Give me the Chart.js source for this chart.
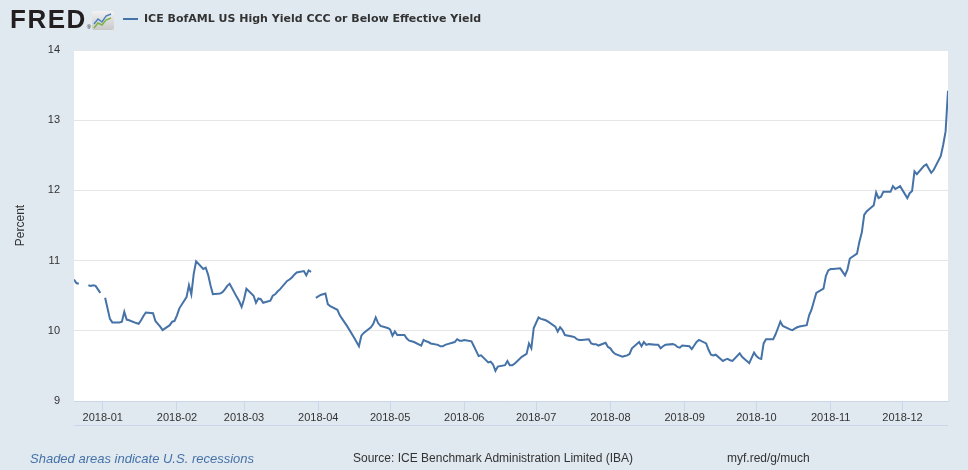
<!DOCTYPE html>
<html>
<head>
<meta charset="utf-8">
<script src="https://cdn.jsdelivr.net/npm/chart.js@4.4.0/dist/chart.umd.min.js"></script>
<style>
  body { margin: 0; background: #e1e9f0; }
  #wrap { position: relative; width: 968px; height: 470px; background: #e1e9f0; font-family: "Liberation Sans", Arial, sans-serif; overflow: hidden; }
  #chart { position: absolute; left: 0; top: 0; }
  .abs { position: absolute; white-space: nowrap; }
  #logo { left: 10px; top: 4px; font: bold 26px "Liberation Sans", Arial, sans-serif; color: #231f20; letter-spacing: 1.5px; }
  #logo sup { font-size: 6px; font-weight: normal; letter-spacing: 0; vertical-align: -1px; }
  #icon { left: 92px; top: 11px; }
  #legendLine { left: 123px; top: 18px; width: 15px; height: 2px; background: #4572a7; }
  #legendText { left: 144px; top: 12px; font: bold 11px "DejaVu Sans", sans-serif; color: #333; }
  #axisLine { left: 74px; top: 425px; width: 874px; height: 1px; background: #ccd6eb; }
  #recess { left: 30px; top: 451px; font: italic 13px "Liberation Sans", Arial, sans-serif; color: #4572a7; }
  #source { left: 353px; top: 451px; font: 12px "Liberation Sans", Arial, sans-serif; color: #333; }
  #link { left: 727px; top: 451px; font: 12px "Liberation Sans", Arial, sans-serif; color: #333; }
</style>
</head>
<body>
<div id="wrap">
  <canvas id="chart" width="968" height="470"></canvas>
  <div class="abs" id="logo">FRED<sup>®</sup></div>
  <svg class="abs" id="icon" width="22" height="19" viewBox="0 0 22 19">
    <defs>
      <linearGradient id="g" x1="0" y1="0" x2="0" y2="1">
        <stop offset="0" stop-color="#f2f2f2"/>
        <stop offset="1" stop-color="#c8c8c8"/>
      </linearGradient>
    </defs>
    <rect width="22" height="19" rx="2" fill="url(#g)"/>
    <polyline points="2,13 6,8 10,11 14,5 19,3" stroke="#4a7fc1" stroke-width="1.4" fill="none"/>
    <polyline points="2,17 6,12 10,14 14,9 19,7" stroke="#7cb342" stroke-width="1.4" fill="none"/>
  </svg>
  <div class="abs" id="legendLine"></div>
  <div class="abs" id="legendText">ICE BofAML US High Yield CCC or Below Effective Yield</div>
  <div class="abs" id="axisLine"></div>
  <div class="abs" id="recess">Shaded areas indicate U.S. recessions</div>
  <div class="abs" id="source">Source: ICE Benchmark Administration Limited (IBA)</div>
  <div class="abs" id="link">myf.red/g/much</div>
</div>
<script>
// days of month with observations, and the yield (percent) on each; null = no value
const dec17Days = [20, 21, 22, 25, 26, 27, 28, 29, 31];
const dec17 = [10.73, 10.68, 10.67, null, 10.65, 10.64, 10.65, 10.64, 10.54];

const janDays = [1, 2, 3, 4, 5, 8, 9, 10, 11, 12, 15, 16, 17, 18, 19, 22, 23, 24, 25, 26, 29, 30, 31];
const jan = [null, 10.47, 10.32, 10.17, 10.12, 10.12, 10.13, 10.27, 10.16, 10.15, 10.11, 10.10, 10.15, 10.21, 10.26, 10.25, 10.14, 10.10, 10.06, 10.01, 10.08, 10.13, 10.14];

const febDays = [1, 2, 5, 6, 7, 8, 9, 12, 13, 14, 15, 16, 19, 20, 21, 22, 23, 26, 27, 28];
const feb = [10.22, 10.32, 10.48, 10.65, 10.52, 10.81, 10.99, 10.88, 10.90, 10.80, 10.65, 10.52, 10.53, 10.55, 10.59, 10.64, 10.67, 10.48, 10.42, 10.34];

const marDays = [1, 2, 5, 6, 7, 8, 9, 12, 13, 14, 15, 16, 19, 20, 21, 22, 23, 26, 27, 28, 29, 30, 31];
const mar = [10.45, 10.60, 10.50, 10.40, 10.46, 10.45, 10.40, 10.43, 10.50, 10.52, 10.56, 10.59, 10.71, 10.73, 10.76, 10.80, 10.83, 10.85, 10.79, 10.86, 10.84, null, 10.47];

const aprDays = [2, 3, 4, 5, 6, 9, 10, 11, 12, 13, 16, 17, 18, 19, 20, 23, 24, 25, 26, 27, 30];
const apr = [10.51, 10.52, 10.53, 10.38, 10.35, 10.30, 10.22, 10.17, 10.12, 10.07, 9.90, 9.84, 9.78, 9.93, 9.97, 10.05, 10.10, 10.19, 10.11, 10.07, 10.04];

const mayDays = [1, 2, 3, 4, 7, 8, 9, 10, 11, 14, 15, 16, 17, 18, 21, 22, 23, 24, 25, 28, 29, 30, 31];
const may = [10.02, 9.93, 9.99, 9.94, 9.94, 9.89, 9.86, 9.85, 9.84, 9.79, 9.87, 9.85, 9.84, 9.82, 9.80, 9.78, 9.78, 9.80, 9.81, 9.84, 9.88, 9.86, 9.86];

const junDays = [1, 4, 5, 6, 7, 8, 11, 12, 13, 14, 15, 18, 19, 20, 21, 22, 25, 26, 27, 28, 29, 30];
const jun = [9.87, 9.85, 9.78, 9.71, 9.64, 9.65, 9.55, 9.56, 9.52, 9.43, 9.49, 9.51, 9.57, 9.51, 9.51, 9.53, 9.63, 9.65, 9.67, 9.82, 9.75, 10.04];

const julDays = [2, 3, 4, 5, 6, 9, 10, 11, 12, 13, 16, 17, 18, 19, 20, 23, 24, 25, 26, 27, 30, 31];
const jul = [10.19, 10.17, 10.16, 10.15, 10.13, 10.06, 9.99, 10.05, 10.01, 9.94, 9.92, 9.91, 9.88, 9.87, 9.87, 9.88, 9.82, 9.81, 9.81, 9.79, 9.83, 9.77];

const augDays = [1, 2, 3, 6, 7, 8, 9, 10, 13, 14, 15, 16, 17, 20, 21, 22, 23, 24, 27, 28, 29, 30, 31];
const aug = [9.75, 9.70, 9.67, 9.63, 9.64, 9.65, 9.67, 9.75, 9.84, 9.78, 9.84, 9.80, 9.81, 9.80, 9.80, 9.75, 9.78, 9.80, 9.81, 9.80, 9.77, 9.76, 9.79];

const sepDays = [3, 4, 5, 6, 7, 10, 11, 12, 13, 14, 17, 18, 19, 20, 21, 24, 25, 26, 27, 28, 30];
const sep = [9.78, 9.74, 9.79, 9.84, 9.87, 9.82, 9.73, 9.66, 9.65, 9.66, 9.57, 9.59, 9.60, 9.58, 9.57, 9.68, 9.63, 9.60, 9.57, 9.54, 9.69];

const octDays = [1, 2, 3, 4, 5, 8, 9, 10, 11, 12, 15, 16, 17, 18, 19, 22, 23, 24, 25, 26, 29, 30, 31];
const oct = [9.64, 9.61, 9.60, 9.82, 9.88, 9.88, 9.95, 10.04, 10.13, 10.07, 10.02, 10.01, 10.03, 10.05, 10.06, 10.08, 10.22, 10.30, 10.42, 10.54, 10.60, 10.78, 10.86];

const novDays = [1, 2, 5, 6, 7, 8, 9, 12, 13, 14, 15, 16, 19, 20, 21, 22, 23, 26, 27, 28, 29, 30];
const nov = [10.88, 10.88, 10.89, 10.84, 10.79, 10.87, 11.03, 11.10, 11.27, 11.40, 11.65, 11.70, 11.79, 11.97, 11.89, 11.91, 11.98, 11.98, 12.06, 12.02, 12.04, 12.06];

const dec18Days = [3, 4, 5, 6, 7, 10, 11, 12, 13, 14, 17, 18, 19, 20];
const dec18 = [11.89, 11.96, 11.99, 12.27, 12.23, 12.35, 12.37, 12.31, 12.25, 12.29, 12.49, 12.65, 12.84, 13.42];

const tickLabels = ['2018-01', '2018-02', '2018-03', '2018-04', '2018-05', '2018-06',
                    '2018-07', '2018-08', '2018-09', '2018-10', '2018-11', '2018-12'];

// day number counted from 2018-01-01
function dayIndex(y, m, d) {
    return (Date.UTC(y, m - 1, d) - Date.UTC(2018, 0, 1)) / 86400000;
}

const months = [
    [2017, 12, dec17Days, dec17], [2018, 1, janDays, jan], [2018, 2, febDays, feb],
    [2018, 3, marDays, mar], [2018, 4, aprDays, apr], [2018, 5, mayDays, may],
    [2018, 6, junDays, jun], [2018, 7, julDays, jul], [2018, 8, augDays, aug],
    [2018, 9, sepDays, sep], [2018, 10, octDays, oct], [2018, 11, novDays, nov],
    [2018, 12, dec18Days, dec18]
];

const points = [];
months.forEach(([y, m, days, vals]) => {
    days.forEach((d, i) => points.push({ x: dayIndex(y, m, d), y: vals[i] }));
});

const tickDays = tickLabels.map((t, i) => dayIndex(2018, i + 1, 1));

// white plot area on the blue-grey page
const plotBackground = {
    id: 'plotBackground',
    beforeDraw(chart) {
        const { ctx, chartArea: a } = chart;
        ctx.save();
        ctx.fillStyle = '#ffffff';
        ctx.fillRect(a.left, a.top, a.right - a.left, a.bottom - a.top);
        ctx.restore();
    }
};

Chart.defaults.font.family = '"Liberation Sans", Arial, sans-serif';

const ctxYield = document.getElementById('chart').getContext('2d');
const yieldChart = new Chart(ctxYield, {
    type: 'line',
    data: {
        datasets: [{
            label: 'ICE BofAML US High Yield CCC or Below Effective Yield',
            data: points,
            borderColor: '#4572a7',
            borderWidth: 2,
            pointRadius: 0,
            tension: 0,
            spanGaps: false,
            fill: false
        }]
    },
    options: {
        responsive: false,
        animation: false,
        layout: { padding: { top: 50, right: 20, bottom: 0, left: 0 } },
        plugins: {
            legend: { display: false },
            tooltip: { enabled: false }
        },
        scales: {
            x: {
                type: 'linear',
                min: dayIndex(2017, 12, 20),
                max: dayIndex(2018, 12, 20),
                afterBuildTicks: s => { s.ticks = tickDays.map(v => ({ value: v })); },
                afterFit: s => { s.height = 69; },
                ticks: {
                    autoSkip: false,
                    maxRotation: 0,
                    padding: 0,
                    color: '#333',
                    font: { size: 11 },
                    callback: (v, i) => tickLabels[i]
                },
                grid: { drawOnChartArea: false, tickLength: 10, color: '#ccd6eb' },
                border: { color: '#ccd6eb' }
            },
            y: {
                min: 9,
                max: 14,
                afterFit: s => { s.width = 74; },
                ticks: { stepSize: 1, padding: 14, color: '#333', font: { size: 11 } },
                grid: { color: '#e6e6e6', drawTicks: false },
                border: { display: false },
                title: {
                    display: true,
                    text: 'Percent',
                    color: '#333',
                    font: { size: 12 },
                    padding: { top: 13, bottom: 0 }
                }
            }
        }
    },
    plugins: [plotBackground]
});
</script>
</body>
</html>
